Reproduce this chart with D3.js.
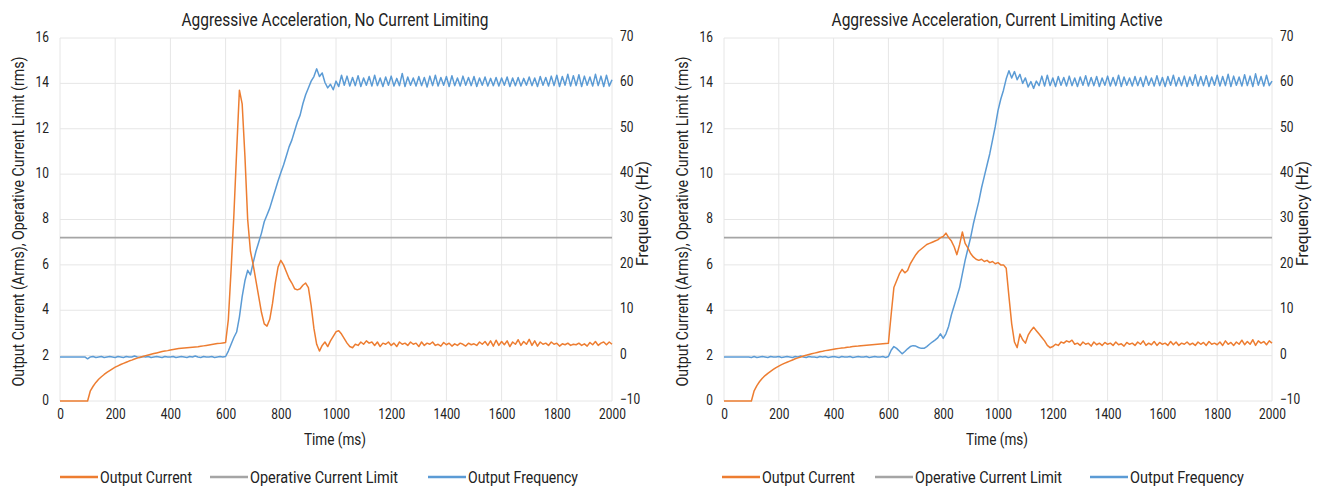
<!DOCTYPE html>
<html><head><meta charset="utf-8">
<script src="https://cdn.jsdelivr.net/npm/d3@7"></script>
<style>
html,body{margin:0;padding:0;background:#fff;}
text{font-family:Roboto,'Noto Sans',sans-serif;fill:#222;}
</style></head>
<body><svg id="c" width="1333" height="487"></svg>
<script>
// ---------- data ----------
const timeMs = d3.range(0, 2001, 10); // sample times, 10 ms step
const xTicks = [0,200,400,600,800,1000,1200,1400,1600,1800,2000];
const currentTicks = [0,2,4,6,8,10,12,14,16];
const freqTicks = [-10,0,10,20,30,40,50,60,70];
const chartTitles = ["Aggressive Acceleration, No Current Limiting","Aggressive Acceleration, Current Limiting Active"];
const legendLabels = ["Output Current","Operative Current Limit","Output Frequency"];
const currentLimit = [7.2, 7.2];

const leftCurrent = [
0,0,0,0,0,0,0,0,0,0,0,
0.45,0.65,0.82,0.96,1.07,1.17,1.26,1.34,1.42,1.49,
1.55,1.61,1.66,1.71,1.76,1.8,1.85,1.89,1.93,1.96,
2.0,2.03,2.06,2.09,2.12,2.15,2.18,2.2,2.22,2.25,
2.27,2.29,2.31,2.33,2.34,2.35,2.36,2.37,2.38,2.39,
2.41,2.43,2.45,2.47,2.49,2.51,2.53,2.54,2.56,2.58,
3.6,5.8,8.2,11.0,13.7,13.1,10.8,8.0,6.6,6.0,
5.3,4.6,3.9,3.4,3.3,3.6,4.3,5.2,5.9,6.2,
6.0,5.7,5.4,5.2,4.95,4.9,4.95,5.1,5.2,5.0,
4.2,3.2,2.5,2.2,2.45,2.6,2.4,2.65,2.85,3.05,
3.1,2.95,2.75,2.55,2.4,2.35,2.5,2.45,2.6,2.5,
2.65,2.55,2.6,2.45,2.6,2.4,2.55,2.5,2.6,2.45,
2.55,2.4,2.6,2.5,2.55,2.45,2.6,2.5,2.55,2.4,
2.6,2.45,2.55,2.5,2.6,2.45,2.5,2.42,2.58,2.48,
2.55,2.42,2.52,2.45,2.55,2.5,2.42,2.55,2.48,2.52,
2.45,2.6,2.5,2.62,2.45,2.65,2.42,2.68,2.45,2.62,
2.48,2.65,2.4,2.6,2.5,2.7,2.45,2.62,2.5,2.72,
2.45,2.65,2.42,2.6,2.5,2.55,2.45,2.6,2.5,2.55,
2.42,2.52,2.48,2.55,2.45,2.5,2.48,2.55,2.45,2.52,
2.42,2.58,2.48,2.62,2.45,2.55,2.6,2.48,2.6,2.5];

const leftFreq = [
-0.3,-0.3,-0.3,-0.3,-0.3,-0.3,-0.3,-0.3,-0.3,-0.3,-0.7,
-0.3,-0.2,-0.4,-0.3,-0.2,-0.4,-0.3,-0.2,-0.3,-0.4,
-0.2,-0.3,-0.4,-0.2,-0.3,-0.3,-0.1,-0.3,-0.4,-0.2,
-0.3,-0.2,-0.4,-0.3,-0.2,-0.3,-0.4,-0.2,-0.3,-0.3,
-0.2,-0.4,-0.3,-0.2,-0.3,-0.4,-0.2,-0.3,-0.1,-0.3,
-0.4,-0.2,-0.3,-0.3,-0.2,-0.4,-0.3,-0.2,-0.3,-0.2,
1.0,2.5,4.0,5.2,8.5,13.0,16.5,18.8,17.8,20.5,
23,25,27,29.5,31,32.5,34.5,36.5,38.5,40.3,
42,44,46,47.5,49.5,51.5,53,55.5,57.5,59,
60.5,61.5,63.2,61.5,62.3,60.2,59,59.8,58.6,60.5,
59.3,61.8,59.6,61.6,59.4,61.3,59.5,61.7,59.3,61.2,
59.6,61.5,59.4,61.8,59.5,61.2,59.3,61.4,59.6,61.6,
59.4,61.1,59.5,62.2,59.3,61.4,59.6,61.2,59.4,61.5,
59.5,61.3,59.2,61.6,59.5,61.8,59.4,61.3,59.6,61.5,
59.3,61.7,59.5,61.2,59.4,61.6,59.6,61.3,59.5,61.5,
59.3,61.2,59.6,61.4,59.4,61.1,59.5,61.3,59.4,61.2,
59.6,61.4,59.3,61.2,59.5,61.3,59.4,61.1,59.6,61.4,
59.5,61.2,59.3,61.5,59.6,61.3,59.4,61.6,59.5,61.8,
59.3,61.5,59.6,62.0,59.4,61.7,59.5,61.9,59.3,61.6,
59.6,61.4,59.4,62.0,59.5,61.6,59.3,61.8,59.4,60.8];

const rightCurrent = [
0,0,0,0,0,0,0,0,0,0,0,
0.45,0.68,0.86,1.0,1.12,1.22,1.31,1.39,1.47,1.54,
1.6,1.66,1.71,1.76,1.81,1.86,1.9,1.94,1.98,2.02,
2.05,2.08,2.11,2.14,2.17,2.19,2.22,2.24,2.26,2.28,
2.3,2.32,2.34,2.35,2.37,2.38,2.4,2.41,2.42,2.44,
2.45,2.46,2.47,2.48,2.49,2.5,2.51,2.52,2.53,2.54,
3.8,5.0,5.3,5.6,5.8,5.65,5.75,6.05,6.25,6.45,
6.6,6.7,6.8,6.9,6.95,7.0,7.05,7.1,7.2,7.25,
7.4,7.2,7.05,6.8,6.45,6.9,7.45,6.95,6.75,6.5,
6.35,6.25,6.2,6.25,6.15,6.2,6.1,6.15,6.05,6.1,
6.0,6.0,5.85,4.6,3.4,2.6,2.35,2.95,2.7,2.55,
2.9,3.1,3.25,3.1,2.95,2.8,2.65,2.45,2.35,2.4,
2.5,2.45,2.6,2.55,2.65,2.6,2.68,2.5,2.55,2.45,
2.6,2.5,2.55,2.42,2.6,2.48,2.55,2.45,2.58,2.5,
2.55,2.45,2.6,2.48,2.52,2.42,2.58,2.5,2.55,2.45,
2.6,2.5,2.65,2.45,2.55,2.48,2.62,2.45,2.58,2.5,
2.55,2.45,2.62,2.48,2.6,2.45,2.55,2.5,2.6,2.48,
2.55,2.45,2.6,2.5,2.58,2.45,2.62,2.5,2.55,2.48,
2.6,2.45,2.65,2.5,2.58,2.45,2.6,2.5,2.68,2.48,
2.62,2.5,2.7,2.45,2.65,2.55,2.62,2.48,2.65,2.55];

const rightFreq = [
-0.3,-0.3,-0.3,-0.3,-0.3,-0.3,-0.3,-0.3,-0.3,-0.3,-0.4,
-0.2,-0.4,-0.3,-0.2,-0.3,-0.4,-0.2,-0.3,-0.3,-0.2,
-0.4,-0.3,-0.2,-0.3,-0.4,-0.2,-0.3,-0.1,-0.3,-0.4,
-0.2,-0.3,-0.3,-0.4,-0.2,-0.3,-0.2,-0.4,-0.3,-0.2,
-0.3,-0.4,-0.2,-0.3,-0.3,-0.2,-0.4,-0.3,-0.2,-0.3,
-0.3,-0.2,-0.4,-0.3,-0.2,-0.3,-0.3,-0.2,-0.4,-0.2,
1.2,2.0,1.6,1.0,0.4,0.9,1.5,2.0,2.2,2.1,
1.8,1.6,1.6,2.0,2.5,3.0,3.4,3.9,4.8,3.8,
4.8,6.5,9,11,13,15,18,21,23.5,26,
29,31.5,34,37,39.5,42,44.5,47.5,50.5,54,
56.5,58.5,61,62.8,61.2,62.6,60.8,62.0,60.0,61.2,
59.2,60.4,58.9,60.5,59.5,61.6,59.4,61.8,59.5,61.2,
59.3,61.5,59.6,61.3,59.4,61.6,59.5,61.2,59.3,61.4,
59.6,61.7,59.4,61.3,59.5,61.5,59.3,61.2,59.6,61.6,
59.4,61.3,59.5,61.8,59.3,61.4,59.6,61.2,59.4,61.5,
59.5,61.3,59.3,61.6,59.6,61.2,59.4,61.7,59.5,61.3,
59.3,61.5,59.6,61.8,59.4,61.3,59.5,61.6,59.3,61.4,
59.6,61.9,59.4,61.5,59.5,61.7,59.3,61.4,59.6,61.8,
59.4,61.5,59.5,62.0,59.3,61.6,59.6,61.4,59.4,61.9,
59.5,61.6,59.3,62.1,59.6,61.5,59.4,61.8,59.5,60.5];

// ---------- drawing ----------
const COLORS = {current:"#ED7D31", limit:"#A5A5A5", freq:"#5B9BD5", grid:"#E6E6E6"};
const svg = d3.select("#c");
svg.append("rect").attr("width",1333).attr("height",487).attr("fill","#fff");

// condensed look: compress a text element horizontally to a given width
function fit(sel, w){
  sel.each(function(){ this.setAttribute("textLength", w); this.setAttribute("lengthAdjust","spacingAndGlyphs"); });
}
function squeeze(sel, f){
  sel.each(function(){ const L=this.getComputedTextLength(); this.setAttribute("textLength", L*f); this.setAttribute("lengthAdjust","spacingAndGlyphs"); });
}

const panels = [
  {x0:60, x1:612, title:chartTitles[0], titleW:307, cur:leftCurrent, freq:leftFreq, limit:currentLimit[0],
   legendX:[60,210,428], legendW:[92,148,110]},
  {x0:724, x1:1272, title:chartTitles[1], titleW:331, cur:rightCurrent, freq:rightFreq, limit:currentLimit[1],
   legendX:[722,875,1090], legendW:[93,147,114]}
];
const yTop = 38, yBot = 401;

panels.forEach(p => {
  const g = svg.append("g");
  const x = d3.scaleLinear().domain([0,2000]).range([p.x0,p.x1]);
  const yC = d3.scaleLinear().domain([0,16]).range([yBot,yTop]);
  const yF = d3.scaleLinear().domain([-10,70]).range([yBot,yTop]);

  // grid
  g.append("g").selectAll("line").data(xTicks).join("line")
    .attr("x1",d=>x(d)).attr("x2",d=>x(d)).attr("y1",yTop).attr("y2",yBot)
    .attr("stroke",COLORS.grid).attr("stroke-width",1);
  g.append("g").selectAll("line").data(currentTicks).join("line")
    .attr("x1",p.x0).attr("x2",p.x1).attr("y1",d=>yC(d)).attr("y2",d=>yC(d))
    .attr("stroke",COLORS.grid).attr("stroke-width",1);

  // axes
  const ax = g.append("g").attr("transform",`translate(0,${yBot+5})`)
    .call(d3.axisBottom(x).tickValues(xTicks).tickSize(0).tickFormat(d3.format("d")));
  const ayl = g.append("g").attr("transform",`translate(${p.x0-8},-1)`)
    .call(d3.axisLeft(yC).tickValues(currentTicks).tickSize(0));
  const ayr = g.append("g").attr("transform",`translate(${p.x1+5},-2)`)
    .call(d3.axisRight(yF).tickValues(freqTicks).tickSize(0));
  [ax,ayl,ayr].forEach(a=>{
    a.select(".domain").remove();
    a.selectAll("text").attr("font-size",14).style("font-family","Roboto, sans-serif").attr("fill","#222");
    squeeze(a.selectAll("text"), 0.85);
  });

  // lines
  const lineC = d3.line().x((d,i)=>x(timeMs[i])).y(d=>yC(d));
  const lineF = d3.line().x((d,i)=>x(timeMs[i])).y(d=>yF(d));
  g.append("line").attr("x1",x(0)).attr("x2",x(2000)).attr("y1",yC(p.limit)).attr("y2",yC(p.limit))
    .attr("stroke",COLORS.limit).attr("stroke-width",1.6);
  g.append("path").datum(p.freq).attr("d",lineF).attr("fill","none").attr("stroke",COLORS.freq).attr("stroke-width",1.5).attr("stroke-linejoin","round");
  g.append("path").datum(p.cur).attr("d",lineC).attr("fill","none").attr("stroke",COLORS.current).attr("stroke-width",1.5).attr("stroke-linejoin","round");

  // titles
  const cx = (p.x0+p.x1)/2 - 1;
  fit(g.append("text").attr("x",cx).attr("y",26).attr("text-anchor","middle").attr("font-size",18).text(p.title), p.titleW);
  fit(g.append("text").attr("x",cx).attr("y",445).attr("text-anchor","middle").attr("font-size",17).text("Time (ms)"), 62);
  fit(g.append("text").attr("transform",`translate(${p.x0-36},${(yTop+yBot)/2+2}) rotate(-90)`).attr("text-anchor","middle").attr("font-size",16)
    .text("Output Current (Arms), Operative Current Limit (rms)"), 330);
  fit(g.append("text").attr("transform",`translate(${p.x1+36},${(yTop+yBot)/2-6}) rotate(-90)`).attr("text-anchor","middle").attr("font-size",16)
    .text("Frequency (Hz)"), 105);

  // legend
  const lc = [COLORS.current, COLORS.limit, COLORS.freq];
  legendLabels.forEach((lab,i)=>{
    const lx = p.legendX[i];
    g.append("line").attr("x1",lx).attr("x2",lx+38).attr("y1",477).attr("y2",477).attr("stroke",lc[i]).attr("stroke-width",2.5);
    fit(g.append("text").attr("x",lx+40).attr("y",483).attr("font-size",17).text(lab), p.legendW[i]);
  });
});
</script></body></html>
